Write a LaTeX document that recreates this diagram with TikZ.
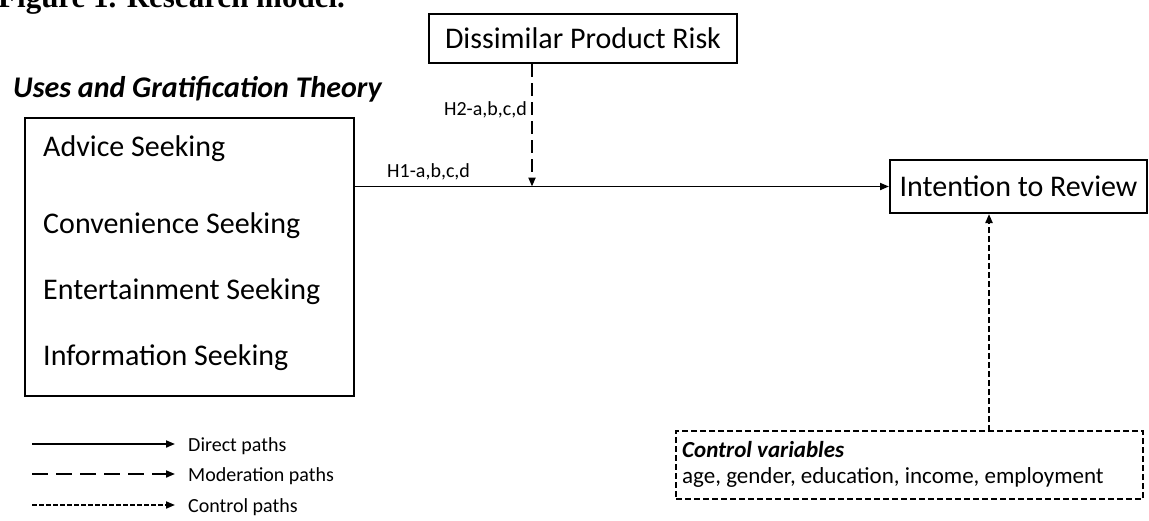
\documentclass[tikz,border=0pt]{standalone}
\usepackage{fontspec}
\setmainfont{Carlito}
\newfontfamily\captionfont{Liberation Serif}
\usetikzlibrary{arrows.meta}
\begin{document}
\begin{tikzpicture}[x=1pt,y=-1pt,
  box/.style={draw, line width=2pt, rectangle, inner sep=0pt},
  lbl/.style={inner sep=0pt, anchor=base west},
  big/.style={font=\fontsize{30}{36}\selectfont},
  small/.style={font=\fontsize{20}{24}\selectfont},
  mid/.style={font=\fontsize{23}{28}\selectfont},
  direct/.style={line width=1.8pt, -{Triangle[length=9pt,width=7pt]}},
  modpath/.style={direct, line width=2pt, dash pattern=on 13pt off 6pt},
  ctrlpath/.style={direct, line width=2pt, dash pattern=on 6pt off 3pt},
  legmod/.style={direct, dash pattern=on 16pt off 8pt},
  legctrl/.style={direct, dash pattern=on 4.5pt off 2.5pt},
]
\useasboundingbox (0,0) rectangle (1149,520);
\clip (0,0) rectangle (1149,520);

% caption line above the figure
\node[lbl, font=\captionfont\bfseries\fontsize{31}{36}\selectfont] (fig) at (-2,7) {Figure 1. Research model.};

% theory heading and its box of motives
\node[lbl, font=\bfseries\itshape\fontsize{30}{36}\selectfont] (ugttitle) at (13,97) {Uses and Gratification Theory};
\node[box, minimum width=329pt, minimum height=278pt] (ugt) at (189.5,257) {};
\node[lbl, big] (advice) at (43,156) {Advice Seeking};
\node[lbl, big] (conv) at (43,233) {Convenience Seeking};
\node[lbl, big] (ent) at (43,299) {Entertainment Seeking};
\node[lbl, big] (info) at (43,365) {Information Seeking};

% moderator and outcome
\node[box, big, minimum width=308pt, minimum height=49pt] (dpr) at (583,38.5) {Dissimilar Product Risk};
\node[box, big, minimum width=257pt, minimum height=53pt] (intent) at (1018.5,186.5) {Intention to Review};

% control variables box
\node[box, dash pattern=on 6pt off 3pt, minimum width=467pt, minimum height=68pt] (ctrl) at (909.5,465) {};
\node[lbl, font=\bfseries\itshape\fontsize{23}{28}\selectfont] (ctrlhead) at (682,457) {Control variables};
\node[lbl, mid] (ctrllist) at (682,483) {age, gender, education, income, employment};

% paths
\draw[direct] (ugt.east |- intent.west) -- (intent.west);
\coordinate (modpt) at (532,186.5);
\draw[modpath] (dpr.south -| modpt) -- (modpt);
\coordinate (ctrlpt) at (989,431);
\draw[ctrlpath] (ctrlpt) -- (intent.south -| ctrlpt);

% hypothesis labels
\node[lbl, small] (h1) at (387,177) {H1-a,b,c,d};
\node[inner sep=0pt, anchor=base east, small] (h2) at (527,115) {H2-a,b,c,d};

% legend
\coordinate (la1) at (32,444);  \coordinate (la2) at (175,444);
\coordinate (lb1) at (32,474);  \coordinate (lb2) at (175,474);
\coordinate (lc1) at (32,505);  \coordinate (lc2) at (175,505);
\draw[direct] (la1) -- (la2);
\draw[legmod] (lb1) -- (lb2);
\draw[legctrl] (lc1) -- (lc2);
\node[lbl, small] (legd) at (188,451) {Direct paths};
\node[lbl, small] (legm) at (188,481) {Moderation paths};
\node[lbl, small] (legc) at (188,512) {Control paths};
\end{tikzpicture}
\end{document}
